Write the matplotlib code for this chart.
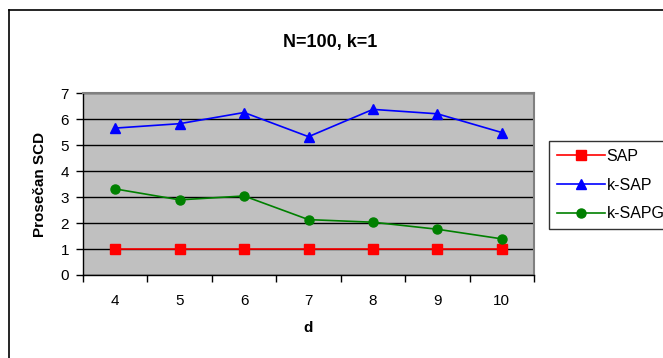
import matplotlib
matplotlib.use("Agg")
import matplotlib.pyplot as plt
from matplotlib.lines import Line2D

d_values = [4, 5, 6, 7, 8, 9, 10]
sap = [1, 1, 1, 1, 1, 1, 1]
k_sap = [5.65, 5.82, 6.25, 5.32, 6.37, 6.20, 5.48]
k_sapg = [3.31, 2.89, 3.04, 2.13, 2.03, 1.76, 1.39]
y_ticks = [0, 1, 2, 3, 4, 5, 6, 7]

plt.rcParams['font.family'] = ['Liberation Sans', 'DejaVu Sans']

fig = plt.figure(figsize=(6.63, 3.58), dpi=100)
W, H = 663, 358
ax = fig.add_axes([83 / W, 1 - 275 / H, (534 - 83) / W, (275 - 93) / H])
ax.set_facecolor('#c0c0c0')

x = list(range(len(d_values)))
ax.plot(x, sap, color='#ff0000', marker='s', markersize=6.5, linewidth=1.2, label='SAP')
ax.plot(x, k_sap, color='#0000ff', marker='^', markersize=7.5, linewidth=1.2, label='k-SAP')
ax.plot(x, k_sapg, color='#008000', marker='o', markersize=6.5, linewidth=1.2, label='k-SAPG')

ax.set_xlim(-0.5, len(d_values) - 0.5)
ax.set_ylim(0, 7)
ax.set_yticks(y_ticks)
ax.set_yticklabels([str(v) for v in y_ticks], fontsize=11)
ax.yaxis.grid(True, color='black', linewidth=1)
ax.set_axisbelow(True)

ax.set_xticks([i - 0.5 for i in range(len(d_values) + 1)])
ax.set_xticklabels([])
ax.set_xticks(x, minor=True)
ax.set_xticklabels([str(v) for v in d_values], minor=True, fontsize=11)
ax.tick_params(axis='x', which='minor', length=0, pad=14)
ax.tick_params(axis='x', which='major', length=5, direction='out', width=1)
ax.tick_params(axis='y', length=5, direction='out', width=1, pad=5)

for s in ['left', 'bottom']:
    ax.spines[s].set_color('black')
    ax.spines[s].set_linewidth(1)
for s in ['top', 'right']:
    ax.spines[s].set_color('#808080')
    ax.spines[s].set_linewidth(1.5)

ax.set_xlabel('d', fontsize=11, fontweight='bold', labelpad=9)
ax.set_ylabel('Prosečan SCD', fontsize=11, fontweight='bold', labelpad=10)
fig.text(330 / W, 1 - 42 / H, 'N=100, k=1', ha='center', va='center', fontsize=13, fontweight='bold')

leg = fig.legend(loc='upper left', bbox_to_anchor=(549 / W, 1 - 141 / H), frameon=True,
                 fontsize=11.5, borderaxespad=0, handlelength=3.0, handletextpad=0.1,
                 labelspacing=0.85, fancybox=False, borderpad=0.5)
leg.get_frame().set_edgecolor('black')
leg.get_frame().set_linewidth(1)

# outer chart border (left and top edges visible)
fig.add_artist(Line2D([9 / W, 9 / W], [0, 1 - 10 / H], transform=fig.transFigure, color='black', linewidth=1.2))
fig.add_artist(Line2D([9 / W, 1], [1 - 10 / H, 1 - 10 / H], transform=fig.transFigure, color='black', linewidth=1.2))

fig.savefig('out.png', dpi=100)
